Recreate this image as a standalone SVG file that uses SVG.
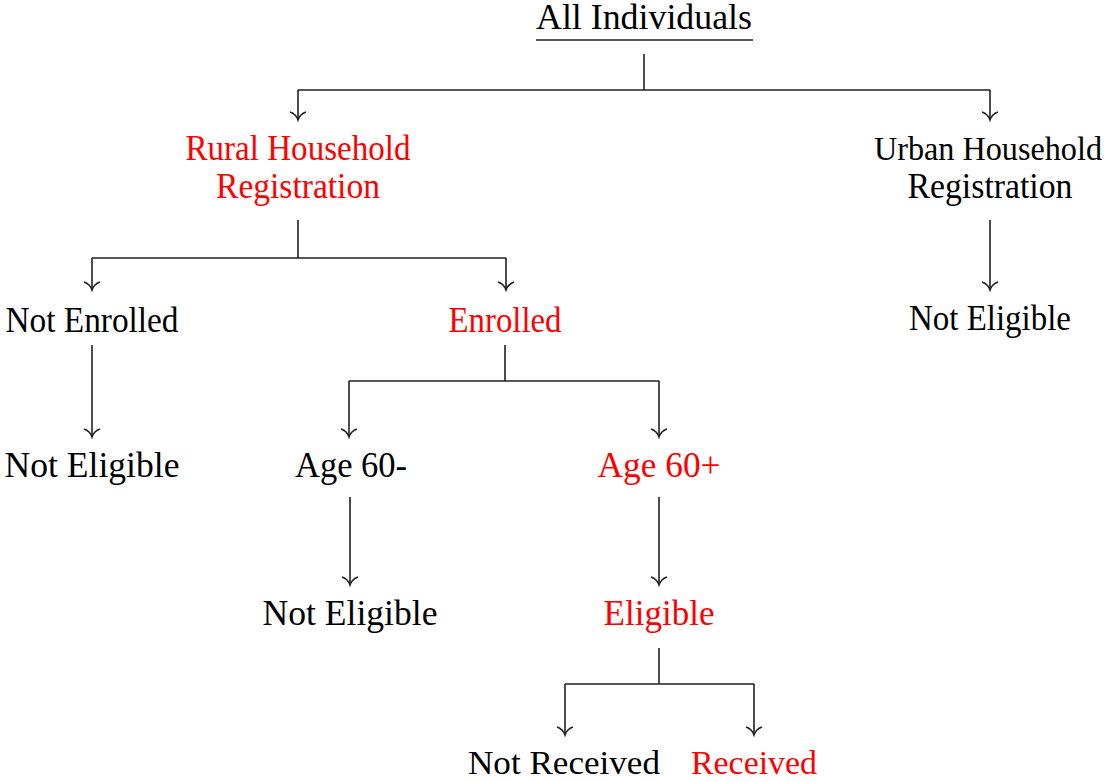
<svg xmlns="http://www.w3.org/2000/svg" width="1107" height="782" viewBox="0 0 1107 782">
<style>
text{font-family:"Liberation Serif","DejaVu Serif",serif;font-size:35px;text-anchor:middle;fill:#000}
.r{fill:#ff0000}
.b{font-size:33px}
.c{fill:none;stroke:#222;stroke-width:1.6}
</style>
<rect width="1107" height="782" fill="#fff"/>
<g id="connectors">
<path class="c" d="M644,54V90M298,90H990M298,90V120M990,90V120"/>
<path class="c" d="M298,220V258M92,258H506M92,258V290M506,258V290M990,220V290"/>
<path class="c" d="M92,345V437M505,345V381M349,381H659M349,381V437M659,381V437"/>
<path class="c" d="M350,497V585M659,497V585"/>
<path class="c" d="M659,648V684M565,684H754M565,684V735M754,684V735"/>
<g class="c">
<path d="M290,112Q296,114 298,120Q300,114 306,112"/>
<path d="M982,112Q988,114 990,120Q992,114 998,112"/>
<path d="M84,282Q90,284 92,290Q94,284 100,282"/>
<path d="M498,282Q504,284 506,290Q508,284 514,282"/>
<path d="M982,282Q988,284 990,290Q992,284 998,282"/>
<path d="M84,429Q90,431 92,437Q94,431 100,429"/>
<path d="M341,429Q347,431 349,437Q351,431 357,429"/>
<path d="M651,429Q657,431 659,437Q661,431 667,429"/>
<path d="M342,577Q348,579 350,585Q352,579 358,577"/>
<path d="M651,577Q657,579 659,585Q661,579 667,577"/>
<path d="M557,727Q563,729 565,735Q567,729 573,727"/>
<path d="M746,727Q752,729 754,735Q756,729 762,727"/>
</g>
</g>
<g id="all"><text x="644" y="29" textLength="216" lengthAdjust="spacingAndGlyphs">All Individuals</text><path d="M536,40H753" stroke="#222" stroke-width="1.6"/></g>
<g id="rural"><text class="r" x="298" y="160" textLength="225" lengthAdjust="spacingAndGlyphs">Rural Household</text><text class="r" x="298" y="198" textLength="164" lengthAdjust="spacingAndGlyphs">Registration</text></g>
<g id="urban"><text class="b" x="988" y="160" textLength="228" lengthAdjust="spacingAndGlyphs">Urban Household</text><text x="990" y="198" textLength="165" lengthAdjust="spacingAndGlyphs">Registration</text></g>
<g id="notenrolled"><text x="92" y="332" textLength="173" lengthAdjust="spacingAndGlyphs">Not Enrolled</text></g>
<g id="enrolled"><text class="r" x="505" y="332" textLength="113" lengthAdjust="spacingAndGlyphs">Enrolled</text></g>
<g id="urban-ne"><text x="990" y="330" textLength="162" lengthAdjust="spacingAndGlyphs">Not Eligible</text></g>
<g id="ne1"><text x="92" y="477" textLength="175" lengthAdjust="spacingAndGlyphs">Not Eligible</text></g>
<g id="age60m"><text x="351" y="477" textLength="112" lengthAdjust="spacingAndGlyphs">Age 60-</text></g>
<g id="age60p"><text class="r" x="659" y="477" textLength="123" lengthAdjust="spacingAndGlyphs">Age 60+</text></g>
<g id="ne2"><text x="350" y="625" textLength="175" lengthAdjust="spacingAndGlyphs">Not Eligible</text></g>
<g id="eligible"><text class="r" x="659" y="625" textLength="111" lengthAdjust="spacingAndGlyphs">Eligible</text></g>
<g id="notreceived"><text class="b" x="564" y="774" textLength="192" lengthAdjust="spacingAndGlyphs">Not Received</text></g>
<g id="received"><text class="r b" x="754" y="774" textLength="126" lengthAdjust="spacingAndGlyphs">Received</text></g>
</svg>
